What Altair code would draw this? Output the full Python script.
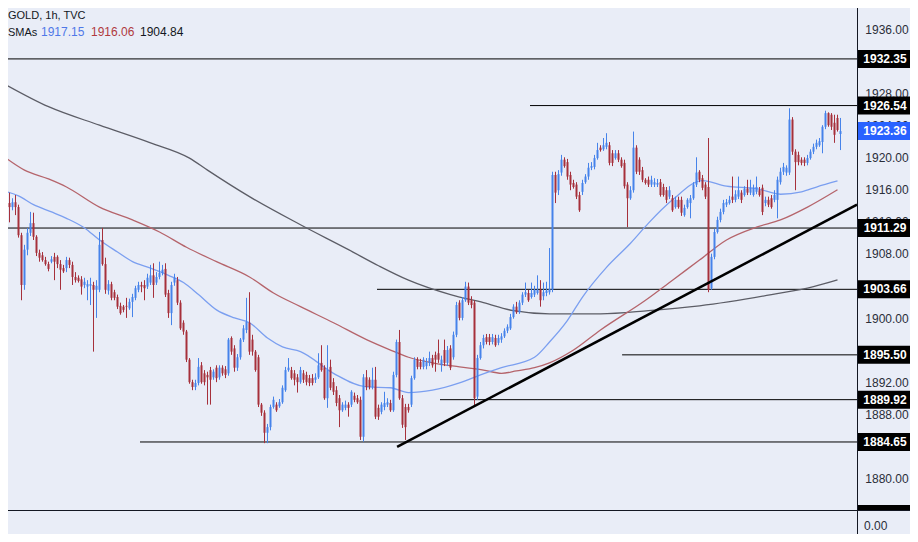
import altair as alt
import pandas as pd

# ---------------- data ----------------
opens = [
    1914.4, 1913.9, 1914.5, 1913.9, 1910.4, 1904.2, 1908.6, 1910.7, 1911.9, 1910.2,
    1908.2, 1907.9, 1907.3, 1906.8, 1907.1, 1907.7, 1907.7, 1906.8, 1906.3, 1906.3,
    1907.3, 1906.7, 1905.2, 1905.1, 1904.9, 1904.2, 1904.0, 1904.1, 1904.2, 1903.6,
    1903.6, 1909.8, 1906.8, 1903.5, 1904.3, 1903.3, 1902.7, 1901.6, 1901.5, 1901.6,
    1901.3, 1902.1, 1902.6, 1903.6, 1904.2, 1904.2, 1904.0, 1904.5, 1905.4, 1904.5,
    1905.2, 1905.7, 1906.2, 1903.2, 1900.7, 1904.5, 1904.8, 1902.0, 1899.5, 1898.4,
    1894.9, 1892.1, 1891.5, 1892.0, 1894.2, 1893.2, 1893.0, 1893.6, 1892.7, 1893.9,
    1892.7, 1893.9, 1893.7, 1893.2, 1897.6, 1896.3, 1893.9, 1895.2, 1897.4, 1898.6,
    1899.5, 1897.4, 1895.9, 1895.2, 1889.3, 1888.3, 1885.8, 1886.5, 1889.0, 1889.3,
    1889.1, 1889.6, 1891.1, 1893.6, 1893.6, 1893.2, 1892.7, 1892.1, 1893.2, 1893.0,
    1892.6, 1892.6, 1892.4, 1892.7, 1894.5, 1893.9, 1890.1, 1894.0, 1892.1, 1891.1,
    1890.1, 1888.6, 1888.9, 1889.3, 1889.3, 1890.4, 1890.1, 1889.9, 1885.3, 1892.7,
    1892.4, 1891.5, 1892.4, 1888.9, 1888.4, 1889.0, 1889.3, 1889.5, 1888.6, 1893.0,
    1897.1, 1890.1, 1889.0, 1889.0, 1889.3, 1892.6, 1894.9, 1894.6, 1894.0, 1894.1,
    1894.5, 1895.1, 1895.5, 1895.7, 1894.2, 1896.1, 1894.5, 1896.3, 1895.2, 1898.0,
    1902.0, 1900.1, 1902.3, 1904.0, 1902.3, 1902.0, 1890.3, 1895.1, 1896.7, 1897.7,
    1897.7, 1897.1, 1897.6, 1897.0, 1897.4, 1897.8, 1898.5, 1898.8, 1900.2, 1901.5,
    1900.8, 1902.0, 1903.0, 1903.2, 1902.7, 1903.0, 1903.2, 1903.6, 1902.8, 1903.2,
    1903.3, 1903.6, 1917.9, 1916.0, 1918.2, 1919.8, 1919.5, 1917.9, 1916.9, 1916.7,
    1915.4, 1915.8, 1917.0, 1917.7, 1918.8, 1918.9, 1920.0, 1921.3, 1921.1, 1921.4,
    1921.6, 1920.6, 1920.0, 1920.6, 1919.8, 1919.4, 1916.7, 1915.0, 1916.0, 1921.3,
    1919.8, 1918.5, 1917.3, 1917.3, 1916.7, 1916.7, 1916.7, 1917.0, 1916.4, 1916.0,
    1915.2, 1915.0, 1913.9, 1914.8, 1914.8, 1912.9, 1913.9, 1914.4, 1915.0, 1916.7,
    1918.3, 1917.5, 1916.7, 1916.4, 1903.8, 1907.7, 1910.8, 1912.3, 1913.3, 1914.2,
    1914.4, 1915.2, 1914.8, 1915.2, 1915.7, 1915.4, 1916.2, 1915.7, 1915.4, 1915.8,
    1916.0, 1916.3, 1914.4, 1914.8, 1915.0, 1914.8, 1914.8, 1917.0, 1918.3, 1918.2,
    1918.2, 1924.8, 1920.8, 1920.4, 1919.8, 1919.8, 1919.4, 1920.0, 1920.8, 1921.4,
    1921.6, 1922.0, 1923.9, 1925.6, 1925.4, 1924.4, 1925.0, 1923.0,
]
highs = [
    1915.7, 1915.0, 1915.4, 1914.2, 1910.7, 1909.2, 1911.3, 1913.3, 1913.2, 1910.4,
    1908.6, 1908.3, 1907.7, 1907.1, 1907.8, 1908.2, 1907.9, 1907.3, 1906.7, 1907.7,
    1907.6, 1907.1, 1905.8, 1905.4, 1905.3, 1905.1, 1904.8, 1905.1, 1904.6, 1904.8,
    1910.8, 1911.3, 1907.6, 1904.8, 1904.6, 1903.6, 1903.0, 1902.0, 1901.7, 1902.6,
    1902.5, 1903.1, 1904.1, 1904.6, 1904.6, 1904.8, 1905.6, 1906.7, 1906.9, 1905.8,
    1907.1, 1906.7, 1906.9, 1903.6, 1904.6, 1905.6, 1905.2, 1902.3, 1899.8, 1898.6,
    1895.1, 1892.4, 1892.4, 1895.1, 1894.6, 1893.6, 1893.4, 1894.0, 1893.7, 1894.2,
    1894.2, 1894.2, 1894.1, 1897.6, 1897.8, 1896.7, 1895.6, 1897.6, 1899.2, 1902.6,
    1903.3, 1898.0, 1896.1, 1895.5, 1889.5, 1888.6, 1886.9, 1889.3, 1890.3, 1889.6,
    1890.0, 1891.7, 1894.0, 1895.1, 1894.0, 1893.6, 1893.1, 1894.0, 1893.6, 1893.4,
    1893.0, 1893.1, 1893.2, 1895.7, 1896.7, 1894.2, 1896.7, 1894.9, 1892.6, 1891.6,
    1890.5, 1889.6, 1889.8, 1889.6, 1891.1, 1890.8, 1890.5, 1890.3, 1893.1, 1893.6,
    1892.7, 1893.9, 1894.0, 1889.3, 1889.6, 1890.9, 1890.1, 1889.9, 1893.4, 1897.4,
    1898.6, 1890.5, 1889.4, 1889.4, 1892.9, 1895.2, 1895.2, 1895.0, 1895.2, 1895.1,
    1895.9, 1895.5, 1895.9, 1897.4, 1895.4, 1897.4, 1896.6, 1896.7, 1898.4, 1902.1,
    1902.3, 1902.7, 1904.6, 1904.5, 1902.8, 1902.3, 1895.5, 1897.1, 1898.0, 1898.1,
    1898.1, 1898.1, 1898.0, 1898.0, 1898.2, 1898.8, 1899.3, 1900.6, 1901.8, 1902.1,
    1902.3, 1903.3, 1904.5, 1903.6, 1904.5, 1904.1, 1905.4, 1904.8, 1904.5, 1904.6,
    1908.8, 1918.3, 1918.3, 1918.5, 1920.4, 1920.1, 1919.9, 1918.3, 1917.3, 1917.0,
    1915.8, 1917.3, 1918.0, 1919.4, 1919.5, 1920.4, 1921.9, 1921.6, 1922.5, 1923.1,
    1922.0, 1921.0, 1921.0, 1921.0, 1920.1, 1919.8, 1917.0, 1916.5, 1923.3, 1921.6,
    1920.1, 1918.9, 1917.5, 1917.7, 1917.8, 1917.5, 1917.4, 1917.4, 1916.8, 1916.4,
    1916.5, 1915.4, 1915.2, 1915.2, 1915.2, 1914.2, 1915.0, 1915.4, 1917.0, 1920.1,
    1918.5, 1917.9, 1917.0, 1922.5, 1908.1, 1911.2, 1912.7, 1913.7, 1914.8, 1914.9,
    1915.3, 1917.7, 1916.0, 1917.7, 1916.0, 1916.5, 1917.3, 1917.3, 1916.7, 1917.7,
    1916.4, 1916.7, 1915.2, 1915.2, 1915.4, 1916.0, 1917.7, 1918.8, 1919.4, 1919.1,
    1926.2, 1925.1, 1921.1, 1920.8, 1920.1, 1920.1, 1920.4, 1921.1, 1921.8, 1922.3,
    1922.5, 1924.1, 1925.9, 1925.7, 1925.6, 1925.4, 1925.4, 1925.0,
]
lows = [
    1912.0, 1913.5, 1912.9, 1910.1, 1902.3, 1903.6, 1907.9, 1910.3, 1909.8, 1907.8,
    1907.1, 1907.1, 1906.6, 1905.9, 1906.9, 1904.8, 1906.3, 1903.6, 1905.7, 1905.8,
    1906.3, 1904.2, 1904.5, 1904.5, 1903.0, 1903.8, 1902.3, 1901.7, 1895.9, 1900.1,
    1903.3, 1906.6, 1903.1, 1903.0, 1902.3, 1902.3, 1901.2, 1900.5, 1900.8, 1900.1,
    1901.1, 1900.2, 1902.3, 1903.3, 1903.3, 1902.3, 1903.7, 1904.2, 1902.6, 1904.2,
    1904.9, 1905.4, 1902.7, 1900.1, 1899.2, 1904.1, 1901.7, 1898.6, 1898.0, 1894.6,
    1891.9, 1891.1, 1891.1, 1891.7, 1891.9, 1891.7, 1889.3, 1889.3, 1892.4, 1892.1,
    1892.4, 1892.9, 1892.6, 1892.9, 1895.5, 1893.4, 1893.5, 1894.9, 1897.1, 1898.2,
    1895.5, 1895.4, 1893.4, 1889.0, 1887.9, 1884.5, 1884.5, 1886.1, 1888.8, 1888.4,
    1888.9, 1889.4, 1890.9, 1893.4, 1892.4, 1891.7, 1890.8, 1891.9, 1892.0, 1891.7,
    1891.6, 1891.7, 1892.0, 1892.5, 1893.4, 1889.9, 1888.9, 1891.1, 1890.5, 1889.1,
    1886.5, 1888.4, 1888.6, 1887.8, 1889.0, 1889.6, 1889.4, 1884.9, 1884.7, 1891.1,
    1891.2, 1891.2, 1887.5, 1887.4, 1888.1, 1888.6, 1889.0, 1888.4, 1888.4, 1892.7,
    1889.9, 1886.4, 1884.9, 1888.3, 1889.0, 1892.4, 1893.7, 1893.7, 1893.7, 1893.7,
    1894.1, 1893.9, 1893.4, 1894.5, 1893.4, 1894.1, 1894.1, 1893.6, 1894.9, 1897.7,
    1899.8, 1899.8, 1902.1, 1901.7, 1901.3, 1889.0, 1889.9, 1894.9, 1896.3, 1896.8,
    1896.7, 1896.8, 1896.5, 1896.7, 1897.0, 1897.6, 1898.2, 1898.6, 1900.0, 1900.6,
    1900.6, 1901.7, 1902.7, 1902.1, 1902.5, 1902.7, 1903.0, 1901.5, 1902.3, 1902.8,
    1903.0, 1903.3, 1914.4, 1915.4, 1917.8, 1918.8, 1917.3, 1916.0, 1916.2, 1914.9,
    1913.3, 1915.4, 1916.8, 1917.3, 1918.5, 1918.6, 1919.8, 1920.8, 1920.9, 1921.1,
    1919.1, 1919.0, 1919.8, 1919.5, 1918.8, 1916.2, 1911.4, 1914.8, 1915.7, 1918.0,
    1917.9, 1917.0, 1916.7, 1916.4, 1916.4, 1916.4, 1916.4, 1915.2, 1915.2, 1914.4,
    1914.9, 1913.3, 1913.7, 1913.7, 1912.8, 1912.7, 1913.7, 1912.5, 1914.8, 1916.4,
    1917.0, 1916.0, 1914.9, 1903.3, 1903.6, 1907.4, 1910.6, 1912.0, 1913.0, 1913.9,
    1914.2, 1914.4, 1914.5, 1914.9, 1914.4, 1915.2, 1915.4, 1915.4, 1915.2, 1915.5,
    1915.2, 1912.9, 1914.0, 1913.9, 1913.7, 1914.5, 1912.5, 1916.7, 1917.9, 1917.8,
    1917.9, 1920.4, 1916.0, 1919.1, 1919.1, 1919.0, 1919.1, 1919.8, 1920.5, 1921.1,
    1921.4, 1920.6, 1923.6, 1923.9, 1923.5, 1921.9, 1923.3, 1921.0,
]
closes = [
    1913.9, 1914.5, 1913.9, 1910.4, 1904.2, 1908.6, 1910.7, 1911.9, 1910.2, 1908.2,
    1907.6, 1907.3, 1906.8, 1906.2, 1907.4, 1907.1, 1906.8, 1906.1, 1905.9, 1907.3,
    1906.7, 1905.2, 1904.8, 1904.7, 1904.0, 1904.6, 1904.3, 1904.3, 1903.6, 1904.1,
    1909.2, 1906.8, 1903.6, 1904.3, 1902.6, 1902.6, 1901.5, 1900.7, 1901.1, 1901.5,
    1902.1, 1902.7, 1903.8, 1904.2, 1904.0, 1903.8, 1905.1, 1905.4, 1904.2, 1905.2,
    1905.7, 1906.1, 1903.0, 1900.7, 1904.2, 1905.1, 1902.0, 1898.8, 1898.4, 1894.9,
    1892.1, 1891.5, 1892.0, 1894.0, 1892.1, 1892.1, 1892.7, 1892.4, 1893.4, 1892.6,
    1893.9, 1893.2, 1893.0, 1897.4, 1895.9, 1893.9, 1895.2, 1897.4, 1898.8, 1899.6,
    1895.9, 1895.9, 1893.6, 1889.3, 1888.3, 1885.8, 1886.5, 1889.0, 1889.9, 1888.6,
    1889.6, 1891.4, 1893.6, 1893.9, 1892.6, 1892.4, 1892.1, 1893.6, 1892.4, 1892.1,
    1892.0, 1892.0, 1892.7, 1894.2, 1893.6, 1890.1, 1893.6, 1891.4, 1890.9, 1889.5,
    1888.6, 1889.3, 1889.3, 1888.9, 1890.9, 1889.9, 1889.6, 1885.3, 1892.7, 1891.5,
    1891.5, 1892.4, 1887.8, 1887.8, 1889.3, 1889.5, 1889.6, 1888.6, 1893.0, 1897.1,
    1890.1, 1886.8, 1886.5, 1888.6, 1892.6, 1894.9, 1894.0, 1894.0, 1894.9, 1894.6,
    1895.1, 1894.2, 1894.9, 1894.9, 1894.9, 1894.5, 1896.1, 1893.9, 1898.0, 1901.7,
    1900.1, 1902.3, 1904.0, 1902.0, 1901.7, 1890.1, 1895.1, 1896.7, 1897.6, 1897.1,
    1897.1, 1897.7, 1896.7, 1897.6, 1897.8, 1898.5, 1899.0, 1900.2, 1901.5, 1900.8,
    1902.0, 1903.0, 1903.3, 1902.3, 1903.2, 1903.6, 1903.6, 1902.3, 1903.3, 1903.5,
    1903.7, 1917.9, 1915.7, 1918.0, 1919.8, 1919.0, 1917.7, 1916.7, 1916.4, 1915.2,
    1913.5, 1916.9, 1917.7, 1918.8, 1919.0, 1920.0, 1921.0, 1921.0, 1921.6, 1921.9,
    1919.4, 1919.4, 1920.6, 1919.8, 1919.0, 1916.5, 1915.0, 1916.0, 1921.3, 1918.3,
    1918.3, 1917.3, 1916.9, 1916.7, 1917.3, 1917.0, 1916.9, 1915.4, 1915.4, 1914.8,
    1916.0, 1913.5, 1914.8, 1913.9, 1913.2, 1913.8, 1914.8, 1915.0, 1916.7, 1918.2,
    1917.3, 1916.3, 1915.2, 1903.6, 1907.7, 1910.8, 1912.3, 1913.3, 1914.4, 1914.5,
    1914.8, 1914.8, 1915.5, 1916.0, 1914.8, 1916.2, 1915.7, 1916.3, 1916.3, 1916.4,
    1915.4, 1913.3, 1914.8, 1914.2, 1913.9, 1915.4, 1917.3, 1918.3, 1918.9, 1918.8,
    1924.8, 1920.8, 1919.5, 1919.5, 1919.4, 1919.4, 1920.0, 1920.8, 1921.4, 1921.9,
    1922.1, 1923.9, 1925.6, 1924.1, 1923.9, 1922.9, 1923.5, 1923.36,
]

# moving averages (bar index, value)
sma_fast_idx = [-3, 3, 8, 14, 19, 25, 30, 36, 41, 47, 53, 58, 63, 69, 75, 80, 86, 91, 97,
                108, 119, 127, 133, 141, 150, 157, 164, 175, 180, 186, 191, 199, 207, 213,
                221, 231, 239, 249, 257, 264, 269, 276]
sma_fast = [1916.0, 1915.3, 1914.2, 1913.3, 1912.5, 1911.3, 1909.8, 1908.3, 1907.1, 1906.3,
            1905.4, 1904.5, 1903.0, 1901.1, 1900.1, 1899.5, 1897.6, 1896.5, 1895.9, 1893.2,
            1891.5, 1891.4, 1890.8, 1891.1, 1892.0, 1893.0, 1893.9, 1895.2, 1897.1, 1899.8,
            1902.7, 1906.4, 1909.4, 1911.9, 1914.8, 1917.2, 1916.5, 1916.2, 1915.5, 1915.8,
            1916.4, 1917.15]
sma_mid_idx = [-3, 5, 13, 19, 30, 41, 50, 59, 69, 80, 88, 97, 108, 119, 127, 133, 141, 150,
               158, 164, 169, 175, 180, 188, 197, 212, 221, 230, 239, 249, 257, 266, 276]
sma_mid = [1920.5, 1918.5, 1917.4, 1916.4, 1913.9, 1912.3, 1910.8, 1908.9, 1907.1, 1905.2,
           1903.2, 1901.5, 1899.5, 1897.4, 1896.1, 1895.2, 1894.5, 1894.0, 1893.6, 1893.2,
           1893.5, 1893.9, 1894.5, 1896.1, 1898.6, 1902.3, 1904.8, 1907.3, 1909.8, 1911.4,
           1912.3, 1913.9, 1916.06]
sma_slow_idx = [-3, 13, 30, 47, 60, 66, 80, 97, 113, 123, 133, 147, 158, 168, 180, 197, 213,
                230, 254, 268, 276]
sma_slow = [1929.5, 1926.4, 1924.1, 1921.9, 1920.0, 1918.5, 1915.2, 1911.7, 1908.6, 1906.6,
            1904.8, 1903.0, 1902.0, 1901.0, 1900.6, 1900.6, 1901.0, 1901.6, 1903.0, 1904.0,
            1904.84]

levels = [1932.35, 1926.54, 1911.29, 1903.66, 1895.50, 1889.92, 1884.65]
level_start = [-0.5, 173.5, -0.5, 122.5, 204.2, 143.5, 43.5]
trend_idx = [129.2, 282.5]
trend_price = [1884.05, 1914.2]
tick_values = [1880, 1884, 1888, 1892, 1896, 1900, 1904, 1908, 1912, 1916, 1920, 1924,
               1928, 1932, 1936]
last_price = [1923.36]
sma_labels = ["1917.15", "1916.06", "1904.84"]

# ---------------- styling ----------------
BG = "#e9edf7"
UP = "#4683ea"
DOWN = "#a6303b"
FONT = "Liberation Sans"
X_END = 282.5

xs = alt.Scale(domain=[-0.5, X_END], range=[0, 849], padding=0, nice=False, zero=False)
ys = alt.Scale(domain=[1876.18, 1938.69], range=[502, 0], padding=0, nice=False, zero=False)

candles = pd.DataFrame({"i": list(range(len(closes))), "open": opens, "high": highs,
                        "low": lows, "close": closes})
candles["dir"] = ["up" if c >= o else "down" for o, c in zip(opens, closes)]
col = alt.Color("dir:N", scale=alt.Scale(domain=["up", "down"], range=[UP, DOWN]), legend=None)

wicks = alt.Chart(candles).mark_rule(strokeWidth=1).encode(
    x=alt.X("i:Q", scale=xs, axis=None),
    y=alt.Y("low:Q", scale=ys, axis=None),
    y2="high:Q",
    color=col,
)
bodies = alt.Chart(candles).mark_bar(width=2).encode(
    x=alt.X("i:Q", scale=xs, axis=None),
    y=alt.Y("open:Q", scale=ys, axis=None),
    y2="close:Q",
    color=col,
)


def sma_layer(idx, vals, color):
    df = pd.DataFrame({"i": idx, "v": vals})
    return alt.Chart(df).mark_line(color=color, strokeWidth=1.3, clip=True,
                                   interpolate="monotone").encode(
        x=alt.X("i:Q", scale=xs, axis=None),
        y=alt.Y("v:Q", scale=ys, axis=None),
    )


lv = pd.DataFrame({"price": levels, "start": level_start, "end": [X_END] * len(levels)})
level_lines = alt.Chart(lv).mark_rule(color="#000000", strokeWidth=1).encode(
    x=alt.X("start:Q", scale=xs, axis=None),
    x2="end:Q",
    y=alt.Y("price:Q", scale=ys, axis=None),
)

trend = alt.Chart(pd.DataFrame({"i": trend_idx, "p": trend_price})).mark_line(
    color="#000000", strokeWidth=2.6).encode(
    x=alt.X("i:Q", scale=xs, axis=None),
    y=alt.Y("p:Q", scale=ys, axis=None),
)

one = pd.DataFrame({"k": [0]})
axis_line = alt.Chart(one).mark_rule(color="#131722", strokeWidth=1).encode(
    x=alt.value(849.5), y=alt.value(0), y2=alt.value(526))
pane_line = alt.Chart(one).mark_rule(color="#131722", strokeWidth=1).encode(
    x=alt.value(0), x2=alt.value(902), y=alt.value(502.5))
hidden_box = alt.Chart(one).mark_rect(color="#000000").encode(
    x=alt.value(850), x2=alt.value(902), y=alt.value(497), y2=alt.value(502))

ticks = alt.Chart(pd.DataFrame({"price": tick_values})).mark_text(
    font=FONT, fontSize=12, color="#2a2e39", align="center", baseline="middle").encode(
    x=alt.value(879),
    y=alt.Y("price:Q", scale=ys, axis=None),
    text=alt.Text("price:Q", format=".2f"),
)


def boxes(prices, fill):
    base = alt.Chart(pd.DataFrame({"price": prices})).transform_calculate(
        top="datum.price + 1.12", bot="datum.price - 1.12")
    rect = base.mark_rect(color=fill).encode(
        x=alt.value(850), x2=alt.value(902),
        y=alt.Y("top:Q", scale=ys, axis=None), y2="bot:Q")
    txt = base.mark_text(font=FONT, fontSize=12, fontWeight="bold", color="#ffffff",
                         align="center", baseline="middle").encode(
        x=alt.value(877),
        y=alt.Y("price:Q", scale=ys, axis=None),
        text=alt.Text("price:Q", format=".2f"))
    return rect + txt


def label(text, x, y, color, size=12):
    return alt.Chart(pd.DataFrame({"t": [text]})).mark_text(
        font=FONT, fontSize=size, color=color, align="left", baseline="alphabetic").encode(
        text="t:N", x=alt.value(x), y=alt.value(y))


zero_lbl = alt.Chart(pd.DataFrame({"t": ["0.00"]})).mark_text(
    font=FONT, fontSize=12, color="#2a2e39", align="left", baseline="middle").encode(
    text="t:N", x=alt.value(856), y=alt.value(518))

chart = alt.layer(
    level_lines,
    sma_layer(sma_slow_idx, sma_slow, "#5c5d66"),
    sma_layer(sma_mid_idx, sma_mid, "#b5646b"),
    sma_layer(sma_fast_idx, sma_fast, "#7b9ff0"),
    wicks,
    bodies,
    trend,
    axis_line,
    pane_line,
    ticks,
    hidden_box,
    boxes(levels, "#000000"),
    boxes(last_price, "#2962ff"),
    zero_lbl,
    label("GOLD, 1h, TVC", 0, 11, "#131722", 11),
    label("SMAs", 0, 28, "#131722", 11),
    label(sma_labels[0], 33, 28, "#4f78e8"),
    label(sma_labels[1], 83, 28, "#b03a3e"),
    label(sma_labels[2], 132, 28, "#131722"),
).properties(
    width=902, height=526, padding=0, background=BG,
    autosize=alt.AutoSizeParams(type="none"),
).configure_view(stroke=None)

chart.save("out.html", embed_options={"renderer": "svg", "actions": False})
